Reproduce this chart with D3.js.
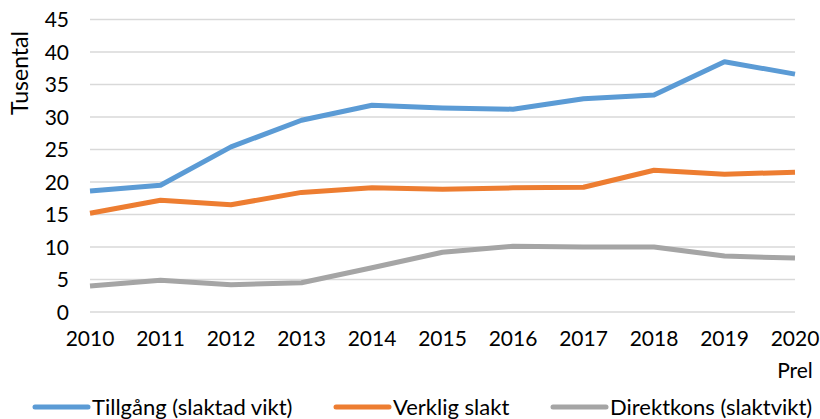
<!DOCTYPE html>
<html>
<head>
<meta charset="utf-8">
<script src="https://cdn.jsdelivr.net/npm/d3@7"></script>
<style>
  html, body { margin: 0; padding: 0; background: #fff; }
  svg { display: block; font-family: Lato, "Open Sans", sans-serif; }
</style>
</head>
<body>
<div id="chart"></div>
<script>
const years = ['2010', '2011', '2012', '2013', '2014', '2015', '2016', '2017', '2018', '2019', '2020'];
const tillgang = [18.6, 19.5, 25.4, 29.5, 31.8, 31.4, 31.2, 32.8, 33.4, 38.5, 36.6];
const verklig  = [15.2, 17.2, 16.5, 18.4, 19.1, 18.9, 19.1, 19.2, 21.8, 21.2, 21.5];
const direkt   = [4.0, 4.9, 4.2, 4.5, 6.8, 9.2, 10.1, 10.0, 10.0, 8.6, 8.3];
const yTicks = [0, 5, 10, 15, 20, 25, 30, 35, 40, 45];
const seriesNames = ['Tillgång (slaktad vikt)', 'Verklig slakt', 'Direktkons (slaktvikt)'];
const colors = ['#5B9BD5', '#ED7D31', '#A5A5A5'];

const W = 820, H = 419;
const svg = d3.select('#chart').append('svg').attr('width', W).attr('height', H);

const x = d3.scalePoint().domain(years).range([90, 795]);
const y = d3.scaleLinear().domain([0, 45]).range([312, 19.5]);

// gridlines
svg.append('g').selectAll('line').data(yTicks).join('line')
  .attr('x1', 90).attr('x2', 795)
  .attr('y1', d => y(d)).attr('y2', d => y(d))
  .attr('stroke', '#D9D9D9').attr('stroke-width', 1.5);

// y axis labels
svg.append('g').selectAll('text').data(yTicks).join('text')
  .attr('x', 69).attr('y', d => y(d) + 7.5)
  .attr('text-anchor', 'end').attr('font-size', 21).attr('fill', '#000')
  .text(d => d);

svg.append('text')
  .attr('transform', 'translate(28,73) rotate(-90)')
  .attr('text-anchor', 'middle').attr('font-size', 23).attr('fill', '#000')
  .text('Tusental');

// x axis labels
svg.append('g').selectAll('text').data(years).join('text')
  .attr('x', d => x(d)).attr('y', 346)
  .attr('text-anchor', 'middle').attr('font-size', 21).attr('fill', '#000')
  .text(d => d);
svg.append('text').attr('x', x('2020')).attr('y', 378)
  .attr('text-anchor', 'middle').attr('font-size', 21).attr('fill', '#000')
  .text('Prel');

// lines
const line = d3.line().x((d, i) => x(years[i])).y(d => y(d));
[tillgang, verklig, direkt].forEach((s, i) => {
  svg.append('path').datum(s).attr('d', line)
    .attr('fill', 'none').attr('stroke', colors[i]).attr('stroke-width', 5)
    .attr('stroke-linejoin', 'round');
});

// legend
const legX = [35, 336, 553];
seriesNames.forEach((n, i) => {
  svg.append('line').attr('x1', legX[i]).attr('x2', legX[i] + 53)
    .attr('y1', 407).attr('y2', 407)
    .attr('stroke', colors[i]).attr('stroke-width', 5).attr('stroke-linecap', 'round');
  svg.append('text').attr('x', legX[i] + 57).attr('y', 415)
    .attr('font-size', 22).attr('fill', '#000').text(n);
});
</script>
</body>
</html>
